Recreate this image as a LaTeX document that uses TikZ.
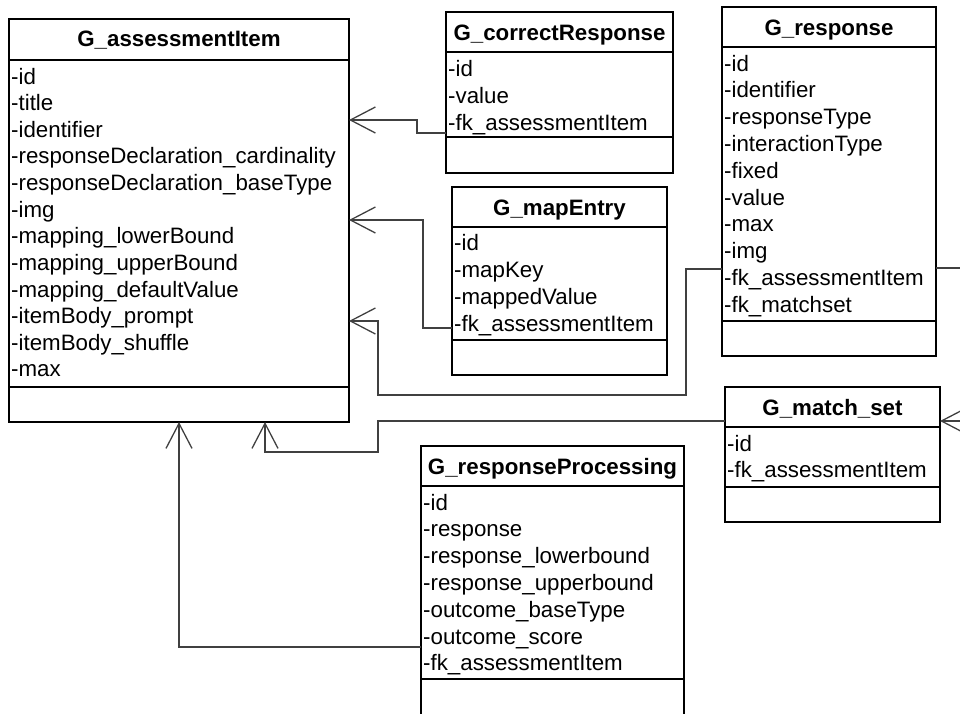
\documentclass[tikz,border=0pt]{standalone}
\usepackage{fontspec}
\setmainfont{Liberation Sans}
\usetikzlibrary{arrows.meta}
\tikzset{
  umlbox/.style={draw=black, line width=1.8pt, inner sep=0pt, outer sep=0pt, anchor=north west},
  sepline/.style={draw=black, line width=1.8pt},
  ttl/.style={anchor=base, inner sep=0pt, font=\fontsize{22.3}{26.8}\selectfont\bfseries},
  attr/.style={anchor=base west, inner sep=0pt, font=\fontsize{22.3}{26.8}\selectfont},
  assoc/.style={draw=black!75, line width=1.3pt, -{Straight Barb[length=25pt,width=26pt,line width=1.3pt]}},
  conn/.style={draw=black!75, line width=1.3pt}
}
\begin{document}
\begin{tikzpicture}[x=1pt,y=-1pt]
\useasboundingbox (0,0) rectangle (960,713);
\clip (0,0) rectangle (960,713);
% G_assessmentItem
\node[umlbox, minimum width=340pt, minimum height=403pt] (ai) at (9,19) {};
\draw[sepline] (ai.west |- 0,60) -- (ai.east |- 0,60);
\draw[sepline] (ai.west |- 0,387) -- (ai.east |- 0,387);
\node[ttl] (ai-t) at (179,46) {G\_assessmentItem};
\foreach [count=\i from 0] \t in {-id,-title,-identifier,-responseDeclaration\_cardinality,-responseDeclaration\_baseType,-img,-mapping\_lowerBound,-mapping\_upperBound,-mapping\_defaultValue,-itemBody\_prompt,-itemBody\_shuffle,-max}
  \node[attr] (ai-\i) at (11,{84+26.63*\i}) {\t};
% G_correctResponse
\node[umlbox, minimum width=227pt, minimum height=161pt] (cr) at (446,12) {};
\draw[sepline] (cr.west |- 0,52) -- (cr.east |- 0,52);
\draw[sepline] (cr.west |- 0,137) -- (cr.east |- 0,137);
\node[ttl] (cr-t) at (559.5,40) {G\_correctResponse};
\foreach [count=\i from 0] \t in {-id,-value,-fk\_assessmentItem}
  \node[attr] (cr-\i) at (448,{76+27*\i}) {\t};
% G_mapEntry
\node[umlbox, minimum width=215pt, minimum height=188pt] (me) at (452,187) {};
\draw[sepline] (me.west |- 0,227) -- (me.east |- 0,227);
\draw[sepline] (me.west |- 0,340) -- (me.east |- 0,340);
\node[ttl] (me-t) at (559.5,215) {G\_mapEntry};
\foreach [count=\i from 0] \t in {-id,-mapKey,-mappedValue,-fk\_assessmentItem}
  \node[attr] (me-\i) at (454,{250+27*\i}) {\t};
% G_response
\node[umlbox, minimum width=214pt, minimum height=349pt] (resp) at (722,7) {};
\draw[sepline] (resp.west |- 0,47) -- (resp.east |- 0,47);
\draw[sepline] (resp.west |- 0,321) -- (resp.east |- 0,321);
\node[ttl] (resp-t) at (829,35) {G\_response};
\foreach [count=\i from 0] \t in {-id,-identifier,-responseType,-interactionType,-fixed,-value,-max,-img,-fk\_assessmentItem,-fk\_matchset}
  \node[attr] (resp-\i) at (724,{71+26.8*\i}) {\t};
% G_match_set
\node[umlbox, minimum width=215pt, minimum height=135pt] (ms) at (725,387) {};
\draw[sepline] (ms.west |- 0,427) -- (ms.east |- 0,427);
\draw[sepline] (ms.west |- 0,487) -- (ms.east |- 0,487);
\node[ttl] (ms-t) at (832.5,415) {G\_match\_set};
\foreach [count=\i from 0] \t in {-id,-fk\_assessmentItem}
  \node[attr] (ms-\i) at (727,{451+26*\i}) {\t};
% G_responseProcessing
\node[umlbox, minimum width=263pt, minimum height=290pt] (rp) at (421,446) {};
\draw[sepline] (rp.west |- 0,486) -- (rp.east |- 0,486);
\draw[sepline] (rp.west |- 0,679) -- (rp.east |- 0,679);
\node[ttl] (rp-t) at (552.5,474) {G\_responseProcessing};
\foreach [count=\i from 0] \t in {-id,-response,-response\_lowerbound,-response\_upperbound,-outcome\_baseType,-outcome\_score,-fk\_assessmentItem}
  \node[attr] (rp-\i) at (423,{510+26.8*\i}) {\t};
% connectors
\coordinate (offr) at (975,300);
\draw[assoc] (cr.west |- 0,133) -| (417,120) -- (ai.east |- 0,120);
\draw[assoc] (me.west |- 0,328) -| (423,220) -- (ai.east |- 0,220);
\draw[assoc] (resp.west |- 0,269) -| (686,395) -| (378,321) -- (ai.east |- 0,321);
\draw[assoc] (resp.east |- 0,268) -| (offr) |- (ms.east |- 0,421);
\draw[assoc] (ms.west |- 0,421) -| (378,452) -| (ai.south -| 265,0);
\draw[assoc] (rp.west |- 0,647) -| (ai.south -| 179,0);
\end{tikzpicture}
\end{document}
